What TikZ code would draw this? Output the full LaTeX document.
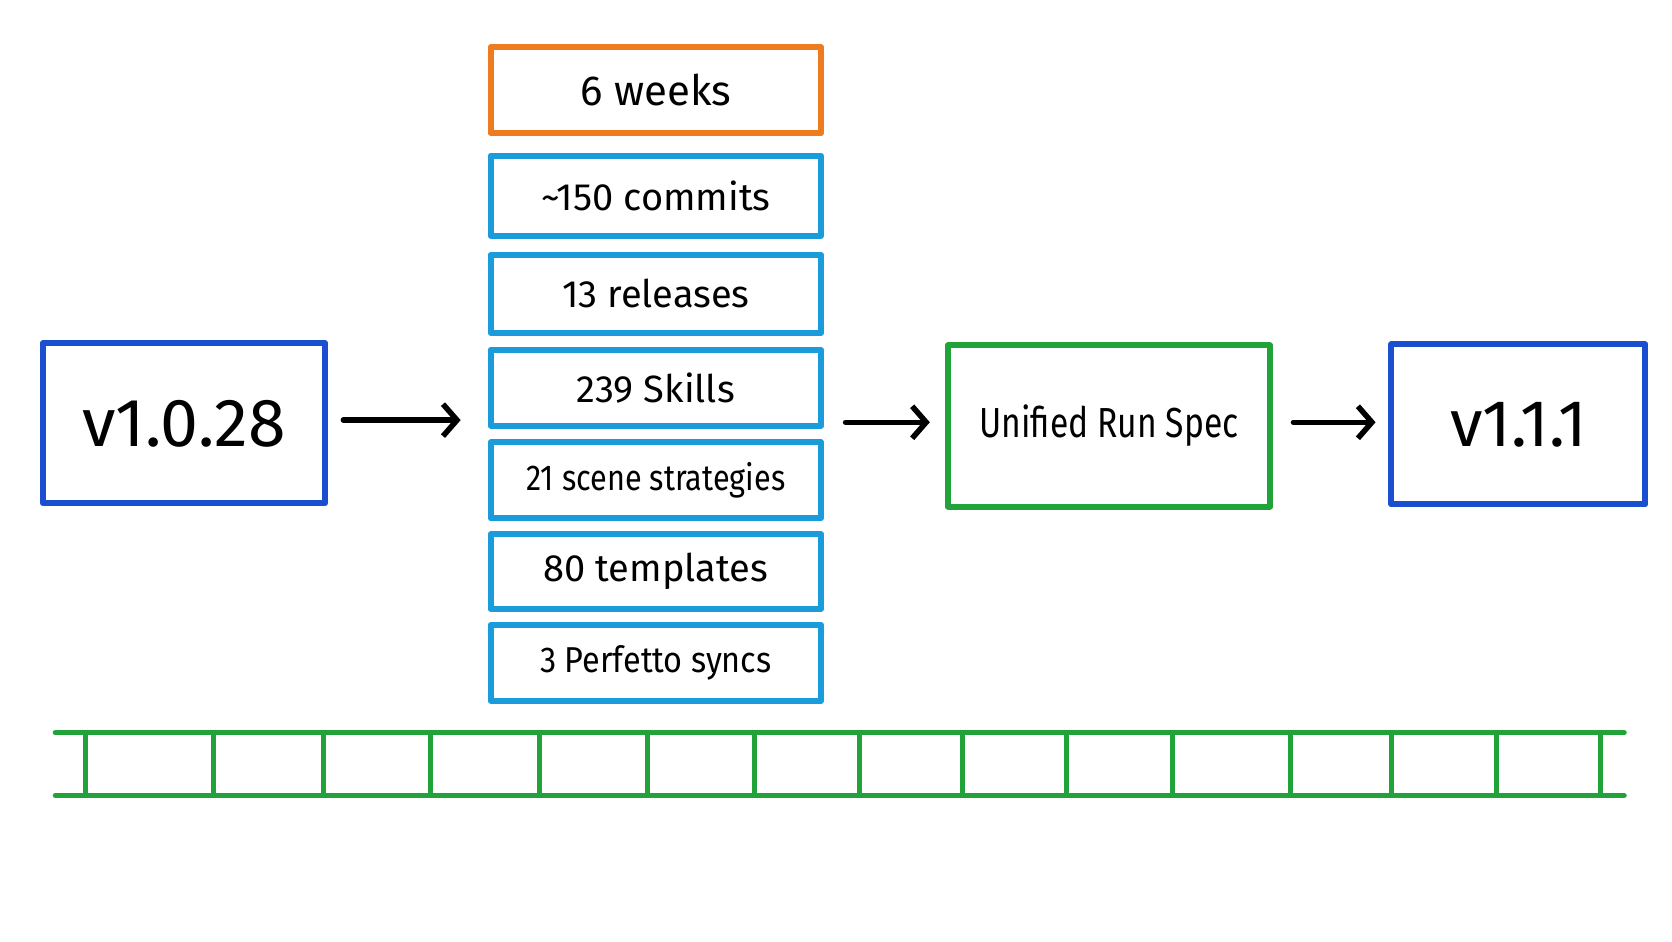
\documentclass[tikz,border=0pt]{standalone}
\usepackage{fontspec}
\setmainfont{Fira Sans}
\usetikzlibrary{arrows.meta}
\definecolor{bl}{HTML}{1A4FD0}
\definecolor{cy}{HTML}{1A9BDB}
\definecolor{og}{HTML}{EE7B1E}
\definecolor{gr}{HTML}{22A33A}
\begin{document}
\begin{tikzpicture}[x=1.0663pt,y=-1.0663pt,line cap=round,line join=round,
 box/.style={draw=#1,line width=6pt,inner sep=0pt},
 st/.style={box=cy,minimum width=330.5pt,font=\fontsize{38}{40}\selectfont},
 arr/.style={-{Straight Barb[length=14pt,width=32pt,line width=5.5pt]},line width=5.5pt}]
\useasboundingbox (0,0) rectangle (1568,882.5);
\node[box=bl,minimum width=282.5pt,minimum height=160pt,font=\fontsize{68}{72}\selectfont] (a) at (172.5,397) {v1.0.28};
\node[box=og,font=\fontsize{42}{44}\selectfont,minimum width=330.5pt,minimum height=86pt] (w) at (615,84.5) {6 weeks};
\node[st,minimum height=80pt] (c) at (615,183.5) {\textasciitilde150 commits};
\node[st,minimum height=78pt] (r) at (615,275.5) {13 releases};
\node[st,minimum height=76pt] (s) at (615,363.5) {239 Skills};
\node[st,minimum height=76pt,font=\fontsize{36}{38}\selectfont] (ss) at (615,450.5) {\scalebox{0.85}[1]{21 scene strategies}};
\node[st,minimum height=75pt] (t) at (615,536) {80 templates};
\node[st,minimum height=76pt,font=\fontsize{36}{38}\selectfont] (p) at (615,621.5) {\scalebox{0.9}[1]{3 Perfetto syncs}};
\node[box=gr,minimum width=322pt,minimum height=161pt,font=\fontsize{42}{44}\selectfont] (u) at (1040,399.5) {\scalebox{0.8}[1]{Unified Run Spec}};
\node[box=bl,minimum width=254pt,minimum height=160pt,font=\fontsize{66}{70}\selectfont] (v) at (1424,398) {v1.1.1};
\coordinate (a1) at (322,394); \coordinate (a2) at (432,394);
\coordinate (b1) at (793,396); \coordinate (b2) at (872,396);
\coordinate (c1) at (1213,396); \coordinate (c2) at (1290,396);
\draw[arr] (a1) -- (a2);
\draw[arr] (b1) -- (b2);
\draw[arr] (c1) -- (c2);
\draw[gr,line width=5.5pt] (52,687) -- (1523,687) (52,746) -- (1523,746);
\foreach \x in {80,200,303,404,506,607,708,806,903,1000,1100,1210,1305,1403,1501}
  \draw[gr,line width=5pt] (\x,687) -- (\x,746);
\end{tikzpicture}
\end{document}
